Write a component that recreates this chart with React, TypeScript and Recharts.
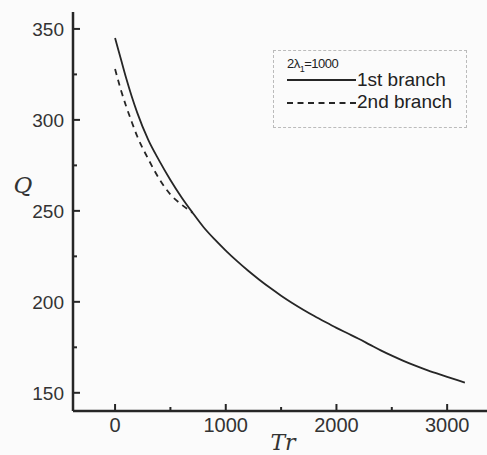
import { LineChart, Line, XAxis, YAxis } from 'recharts'

const xTicks = [0, 500, 1000, 1500, 2000, 2500, 3000]
const yTicks = [150, 175, 200, 225, 250, 275, 300, 325, 350]

// 1st branch (solid)
const firstTr = [0, 50, 100, 150, 200, 300, 400, 500, 600, 700, 800, 900, 1000, 1100, 1200, 1300, 1400, 1500, 1600, 1700, 1800, 1900, 2000, 2100, 2200, 2300, 2400, 2500, 2600, 2700, 2800, 2900, 3000, 3100, 3160]
const firstQ = [345, 334, 323, 313, 304, 289, 277.5, 267, 257.5, 249, 241, 234.3, 228.2, 222.5, 217.2, 212.3, 207.7, 203.4, 199.4, 195.7, 192.2, 188.9, 185.7, 182.7, 179.7, 176.5, 173.3, 170.4, 167.7, 165.2, 162.9, 160.8, 158.8, 156.8, 155.6]

// 2nd branch (dashed)
const secondTr = [0, 50, 100, 150, 200, 300, 400, 500, 600, 700]
const secondQ = [328, 317, 307.5, 299, 291, 278.5, 267.5, 259, 253.5, 249]

const firstData = firstTr.map((tr, i) => ({ tr, q: firstQ[i] }))
const secondData = secondTr.map((tr, i) => ({ tr, q: secondQ[i] }))

const ink = '#262626'
const font = '"Liberation Sans", Arial, sans-serif'

function XTick({ x, y, payload }: any) {
  const major = payload.value % 1000 === 0
  return (
    <g>
      <line x1={x} x2={x} y1={y} y2={y - (major ? 7 : 4)} stroke={ink} strokeWidth={2} />
      {major && (
        <text x={x} y={y + 21} textAnchor="middle" fontSize={20} fontFamily={font} fill="#333">{payload.value}</text>
      )}
    </g>
  )
}

function YTick({ x, y, payload }: any) {
  const major = payload.value % 50 === 0
  return (
    <g>
      <line x1={x} x2={x + (major ? 7 : 4)} y1={y} y2={y} stroke={ink} strokeWidth={2} />
      {major && (
        <text x={x - 9} y={y + 7} textAnchor="end" fontSize={19} fontFamily={font} fill="#333">{payload.value}</text>
      )}
    </g>
  )
}

export default function App() {
  document.body.style.margin = '0'
  return (
    <div style={{ position: 'relative', width: 487, height: 455, background: '#fbfbfb' }}>
      <LineChart width={487} height={455} margin={{ top: 12, right: 0, left: 0, bottom: 0 }}>
        <XAxis xAxisId="top" orientation="top" type="number" domain={[-380, 3360]} height={0} tick={false} tickLine={false}
          stroke={ink} axisLine={{ stroke: ink, strokeWidth: 2.5 }} />
        <XAxis type="number" dataKey="tr" domain={[-380, 3360]} ticks={xTicks} interval={0} allowDataOverflow
          height={44} tickSize={0} tickMargin={0} tick={<XTick />} stroke={ink} axisLine={{ stroke: ink, strokeWidth: 2.5 }}
          label={{ content: () => <text x={283} y={450} textAnchor="middle" fontSize={22} fontStyle="italic" fontFamily='"DejaVu Serif", serif' fill="#333">Tr</text> }} />
        <YAxis type="number" domain={[140, 359.3]} ticks={yTicks} interval={0} allowDataOverflow
          width={73} tickSize={0} tickMargin={0} tick={<YTick />} stroke={ink} axisLine={{ stroke: ink, strokeWidth: 2.5 }}
          label={{ content: () => <text x={23} y={193} textAnchor="middle" fontSize={23} fontStyle="italic" fontFamily='"DejaVu Serif", serif' fill="#333">Q</text> }} />
        <Line data={firstData} dataKey="q" type="monotone" stroke={ink} strokeWidth={1.8} dot={false} isAnimationActive={false} />
        <Line data={secondData} dataKey="q" type="monotone" stroke={ink} strokeWidth={1.8} strokeDasharray="6 5" dot={false} isAnimationActive={false} />
      </LineChart>
      <div style={{ position: 'absolute', left: 273, top: 50, width: 194, height: 78, border: '1px dashed #bbb', boxSizing: 'border-box', fontFamily: font, color: '#222', lineHeight: 1 }}>
        <div style={{ position: 'absolute', left: 13, top: 6, fontSize: 13, letterSpacing: -0.5 }}>2λ<sub style={{ fontSize: 9 }}>1</sub>=1000</div>
        <div style={{ position: 'absolute', left: 13, top: 28, width: 69, borderTop: `2px solid ${ink}` }} />
        <div style={{ position: 'absolute', left: 83, top: 19, fontSize: 19 }}>1st branch</div>
        <div style={{ position: 'absolute', left: 13, top: 51, width: 69, borderTop: `2px dashed ${ink}` }} />
        <div style={{ position: 'absolute', left: 83, top: 41, fontSize: 19 }}>2nd branch</div>
      </div>
    </div>
  )
}
